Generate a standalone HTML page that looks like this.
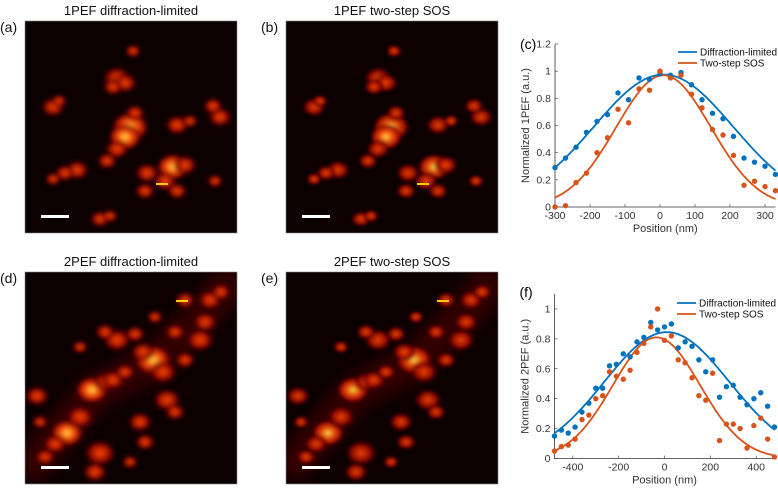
<!DOCTYPE html>
<html><head><meta charset="utf-8"><style>
body{margin:0;background:#fff;width:778px;height:491px;overflow:hidden;font-family:"Liberation Sans",sans-serif}
svg text{font-family:"Liberation Sans",sans-serif}
</style></head><body>
<svg id="fig" width="778" height="491" xmlns="http://www.w3.org/2000/svg">
<defs>
<filter id="bl" x="-50%" y="-50%" width="200%" height="200%"><feGaussianBlur stdDeviation="2.2"/></filter>
<filter id="bs" x="-50%" y="-50%" width="200%" height="200%"><feGaussianBlur stdDeviation="1.4"/></filter>
<filter id="bb" x="-50%" y="-50%" width="200%" height="200%"><feGaussianBlur stdDeviation="7"/></filter>
<clipPath id="imclip"><rect x="0" y="0" width="212" height="212"/></clipPath>
<radialGradient id="hot"><stop offset="0" stop-color="#ffe850"/><stop offset="0.35" stop-color="#ff6010"/><stop offset="0.75" stop-color="#a00800"/><stop offset="1" stop-color="#200000" stop-opacity="0"/></radialGradient>
<radialGradient id="warm"><stop offset="0" stop-color="#ff4a08"/><stop offset="0.6" stop-color="#900800"/><stop offset="1" stop-color="#200000" stop-opacity="0"/></radialGradient>
</defs>
<g id="images"></g>
<g id="chartC"></g>
<g id="chartF"></g>
</svg>
<script>
// ---------- chart (c) data ----------
const xC = [-300,-270,-240,-210,-180,-150,-120,-90,-60,-30,0,30,60,90,120,150,180,210,240,270,300,330];
const blueC = [0.29,0.36,0.44,0.55,0.63,0.68,0.84,0.79,0.95,0.94,0.98,0.97,0.99,0.90,0.79,0.69,0.65,0.52,0.36,0.33,0.30,0.24];
const orangeC = [0.0,0.01,0.18,0.25,0.40,0.51,0.72,0.62,0.87,0.86,1.0,0.95,0.97,0.83,0.73,0.57,0.53,0.38,0.16,0.19,0.15,0.12];
const fitBlueC = [0.975,10,199];   // amplitude, center, sigma
const fitOrangeC = [0.97,10,135];
const xTicksC = [-300,-200,-100,0,100,200,300];
const yTicksC = [0,0.2,0.4,0.6,0.8,1,1.2];
// ---------- chart (f) data ----------
const xF = [-480,-450,-420,-390,-360,-330,-300,-270,-240,-210,-180,-150,-120,-90,-60,-30,0,30,60,90,120,150,180,210,240,270,300,330,360,390,420,450,480];
const blueF = [0.15,0.19,0.17,0.21,0.31,0.37,0.47,0.47,0.62,0.63,0.70,0.68,0.78,0.81,0.91,0.86,0.88,0.90,0.74,0.78,0.75,0.66,0.58,0.66,0.41,0.48,0.49,0.41,0.36,0.40,0.44,0.35,0.21];
const orangeF = [0.05,0.08,0.09,0.13,0.26,0.29,0.40,0.42,0.58,0.55,0.53,0.59,0.71,0.77,0.88,1.0,0.79,0.82,0.66,0.64,0.54,0.42,0.39,0.57,0.12,0.23,0.23,0.20,0.07,0.22,0.27,0.13,0.01];
const fitBlueF = [0.845,10,273];
const fitOrangeF = [0.81,-35,190];
const xTicksF = [-400,-200,0,200,400];
const yTicksF = [0,0.2,0.4,0.6,0.8,1];

const NS="http://www.w3.org/2000/svg";
function mk(tag,attrs,parent){const e=document.createElementNS(NS,tag);for(const k in attrs)e.setAttribute(k,attrs[k]);parent.appendChild(e);return e;}
const BLUE="#0072bd", ORANGE="#d95319";

function chart(g,cfg){
  const sx=v=>cfg.L+(v-cfg.xmin)/(cfg.xmax-cfg.xmin)*(cfg.R-cfg.L);
  const sy=v=>cfg.B-(v-cfg.ymin)/(cfg.ymax-cfg.ymin)*(cfg.B-cfg.T);
  cfg.yt.forEach(t=>{
    const tx=mk('text',{x:cfg.L-4,y:sy(t)+3.5,'text-anchor':'end','font-size':10.5,fill:'#333'},g);tx.textContent=String(t);
    
    
    mk('line',{x1:cfg.L,x2:cfg.L+3,y1:sy(t),y2:sy(t),stroke:'#333','stroke-width':0.6},g);
  });
  cfg.xt.forEach(t=>{
    const tx=mk('text',{x:sx(t),y:cfg.B+12,'text-anchor':'middle','font-size':10.5,fill:'#333'},g);tx.textContent=String(t);
    
    
    mk('line',{x1:sx(t),x2:sx(t),y1:cfg.B,y2:cfg.B-3,stroke:'#333','stroke-width':0.6},g);
  });
  const ax=mk('path',{d:`M${cfg.L},${cfg.T}V${cfg.B}H${cfg.R}`,fill:'none',stroke:'#333','stroke-width':0.8},g);
  
  
  const xl=mk('text',{x:(cfg.L+cfg.R)/2,y:cfg.B+25,'text-anchor':'middle','font-size':11,fill:'#333'},g);xl.textContent='Position (nm)';
  
  
  const yl=mk('text',{x:0,y:0,'text-anchor':'middle','font-size':11,fill:'#333',transform:`translate(${cfg.L-26},${(cfg.T+cfg.B)/2}) rotate(-90)`},g);yl.textContent=cfg.ylabel;
  
  
  const pl=mk('text',{x:cfg.L-35,y:cfg.panelY,'font-size':14,fill:'#000'},g);pl.textContent=cfg.panel;
  
  
  const clip=mk('g',{},g);
  [[cfg.fitB,BLUE,'blue'],[cfg.fitO,ORANGE,'orange']].forEach(([p,c,n])=>{
    let d='';for(let i=0;i<=120;i++){const x=cfg.xmin+(cfg.xmax-cfg.xmin)*i/120;const y=p[0]*Math.exp(-Math.pow(x-p[1],2)/(2*p[2]*p[2]));d+=(i?'L':'M')+sx(x).toFixed(1)+','+sy(y).toFixed(1);}
    const pa=mk('path',{d,fill:'none',stroke:c,'stroke-width':1.8},clip);
    
    
  });
  [[cfg.yb,BLUE,'diffraction-point'],[cfg.yo,ORANGE,'sos-point']].forEach(([arr,c,n])=>{
    arr.forEach((v,i)=>{const ci=mk('circle',{cx:sx(cfg.x[i]),cy:sy(v),r:2.7,fill:c},clip);
      
      });
  });
  [['Diffraction-limited',BLUE,0],['Two-step SOS',ORANGE,1]].forEach(([t,c,i])=>{
    const y=cfg.legY+i*11;
    mk('line',{x1:cfg.legX,x2:cfg.legX+19,y1:y,y2:y,stroke:c,'stroke-width':1.8},g);
    const tx=mk('text',{x:cfg.legX+22,y:y+3.5,'font-size':10,fill:'#111'},g);tx.textContent=t;
    
    
  });
}
chart(document.getElementById('chartC'),{L:555,R:775.5,T:44,B:207,xmin:-300,xmax:330,ymin:0,ymax:1.2,xt:xTicksC,yt:yTicksC,x:xC,yb:blueC,yo:orangeC,fitB:fitBlueC,fitO:fitOrangeC,ylabel:'Normalized 1PEF (a.u.)',panel:'(c)',panelY:49,legX:678,legY:52});
chart(document.getElementById('chartF'),{L:554.5,R:774.5,T:294,B:458.5,xmin:-480,xmax:480,ymin:0,ymax:1.1,xt:xTicksF,yt:yTicksF,x:xF,yb:blueF,yo:orangeF,fitB:fitBlueF,fitO:fitOrangeF,ylabel:'Normalized 2PEF (a.u.)',panel:'(f)',panelY:297,legX:677,legY:303});

// ---------- microscopy images (approximate) ----------
const blobs1=[[105,106,9,'hot'],[100,116,8,'hot'],[92,57,7,'warm'],[100,62,6,'warm'],[88,66,5,'warm'],[28,86,6,'warm'],[34,80,4,'warm'],[52,149,6,'warm'],[40,152,5,'warm'],[28,158,4,'warm'],[148,146,8,'hot'],[160,144,6,'warm'],[140,160,6,'warm'],[152,170,5,'warm'],[122,152,6,'warm'],[120,170,5,'warm'],[195,96,6,'warm'],[188,85,5,'warm'],[152,104,6,'warm'],[165,100,4,'warm'],[92,128,6,'warm'],[82,140,5,'warm'],[110,92,5,'warm'],[190,160,4,'warm'],[108,30,4,'warm'],[75,198,5,'warm'],[85,195,4,'warm']];
const blobs2=[[67,118,8,'hot'],[80,110,6,'warm'],[42,161,8,'hot'],[55,145,7,'warm'],[30,172,6,'warm'],[128,88,9,'hot'],[138,100,7,'warm'],[118,80,6,'warm'],[88,108,6,'warm'],[100,100,5,'warm'],[175,68,7,'warm'],[180,50,6,'warm'],[185,28,6,'warm'],[160,28,5,'warm'],[196,20,5,'warm'],[75,181,8,'warm'],[70,200,6,'warm'],[142,128,7,'warm'],[150,140,5,'warm'],[92,68,7,'warm'],[80,60,5,'warm'],[110,62,5,'warm'],[12,124,6,'warm'],[15,150,4,'warm'],[115,150,6,'warm'],[120,170,5,'warm'],[105,190,4,'warm'],[160,88,5,'warm'],[150,60,5,'warm'],[130,45,4,'warm'],[55,75,4,'warm'],[20,185,5,'warm']];
const imgs=[
 {x:25,y:21,title:'1PEF diffraction-limited',lab:'(a)',sharp:false,bar:[137,162],blobs:blobs1,glow:false},
 {x:286,y:21,title:'1PEF two-step SOS',lab:'(b)',sharp:true,bar:[137,162],blobs:blobs1,glow:false},
 {x:25,y:272,title:'2PEF diffraction-limited',lab:'(d)',sharp:false,bar:[157,28],blobs:blobs2,glow:true},
 {x:286,y:272,title:'2PEF two-step SOS',lab:'(e)',sharp:true,bar:[157,28],blobs:blobs2,glow:true}
];
const ig=document.getElementById('images');
imgs.forEach(im=>{
  const g=mk('g',{transform:`translate(${im.x},${im.y})`},ig);
  
  
  const inner=mk('g',{'clip-path':'url(#imclip)'},g);
  mk('rect',{x:0,y:0,width:212,height:212,fill:'#0c0000'},inner);
  if(im.glow){
    mk('path',{d:'M10,190 L70,120 L130,90 L180,40 L200,15',fill:'none',stroke:'#300300','stroke-width':36,filter:'url(#bb)','stroke-linecap':'round'},inner);
  }
  const bg=mk('g',{filter:im.sharp?'url(#bs)':'url(#bl)'},inner);
  im.blobs.forEach(b=>{mk('ellipse',{cx:b[0],cy:b[1],rx:b[2]*2.1,ry:b[2]*1.7,fill:`url(#${b[3]})`,opacity:im.sharp?0.9:1},bg);});
  mk('rect',{x:16,y:194,width:28,height:3,fill:'#fff'},g);
  mk('rect',{x:im.bar[0]-6,y:im.bar[1],width:12,height:2,fill:'#ffd000'},g);
  mk('rect',{x:0,y:0,width:212,height:212,fill:'none',stroke:'#888','stroke-width':0.6},g);
  const t=mk('text',{x:106,y:-6,'text-anchor':'middle','font-size':13,fill:'#111'},g);t.textContent=im.title;
  
  
  const l=mk('text',{x:-25,y:11,'font-size':14,fill:'#111'},g);l.textContent=im.lab;
  
  
});
</script>
</body></html>
